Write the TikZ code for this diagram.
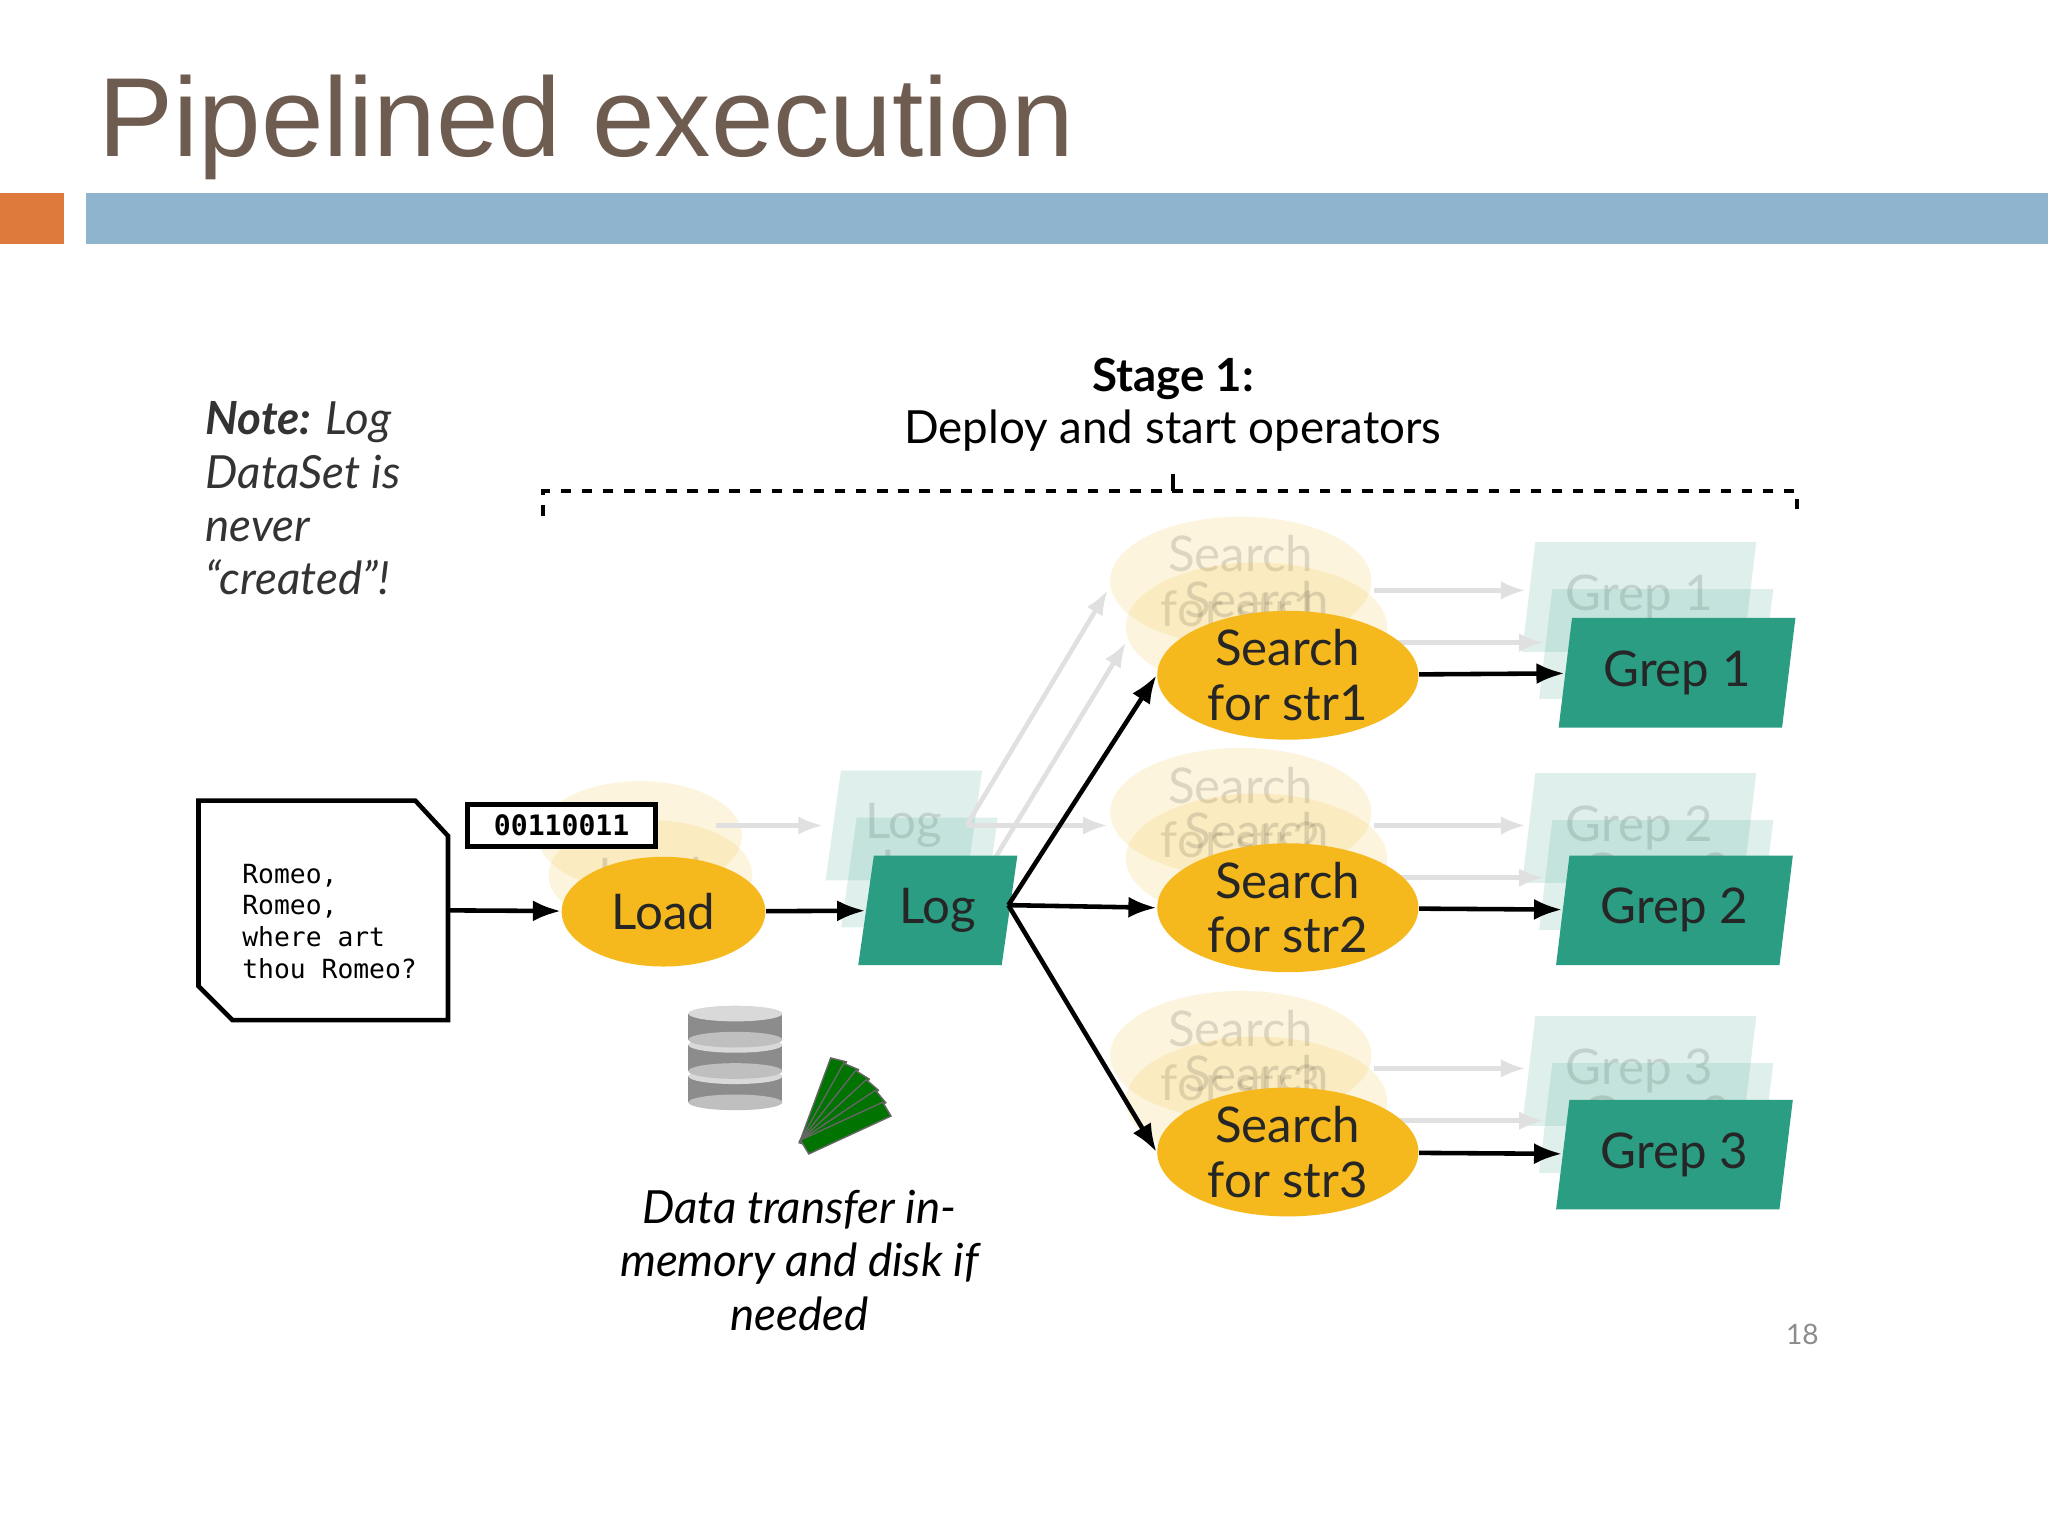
\documentclass[tikz,border=0pt]{standalone}
\usepackage{fontspec}
\setmainfont{Lato}
\newfontfamily\titlefont{Liberation Sans}
\newfontfamily\monofont{DejaVu Sans Mono}
\usetikzlibrary{arrows.meta,shapes.geometric}
\definecolor{gold}{HTML}{F5B91E}
\definecolor{teal}{HTML}{2A9D83}
\definecolor{titlebrown}{HTML}{6E5C50}
\definecolor{barblue}{HTML}{8FB4CD}
\definecolor{barorange}{HTML}{DE7B3C}
\newcommand{\pxu}{0.01306cm}
\tikzset{
  op/.style={ellipse,fill=gold,minimum width=200*\pxu,minimum height=90*\pxu,inner sep=0pt,align=center,font=\fontsize{14}{15.5}\selectfont,text=black!85},
  sm/.style={ellipse,fill=gold,minimum width=156*\pxu,minimum height=84*\pxu,inner sep=0pt,font=\fontsize{14}{16}\selectfont,text=black!85},
  ds/.style={trapezium,trapezium stretches=true,trapezium left angle=78,trapezium right angle=102,fill=teal,minimum height=84*\pxu,inner sep=0pt,font=\fontsize{14}{16}\selectfont,text=black!85},
  ghost/.style={opacity=0.15},
  flow/.style={-{Latex[length=8pt]},line width=1.3pt},
  gflow/.style={-{Latex[length=7pt]},line width=1.3pt,black!12},
}
\begin{document}
\begin{tikzpicture}[x=0.01306cm,y=-0.01306cm]
\useasboundingbox (0,0) rectangle (1568,1176);
\fill[white] (0,0) rectangle (1568,1176);
% title and bars
\node[anchor=base west,inner sep=0pt,text=titlebrown,font=\titlefont\fontsize{32}{36}\selectfont] (title) at (75,120) {Pipelined execution};
\fill[barorange] (0,148) rectangle (49,187);
\fill[barblue] (66,148) rectangle (1568,187);
% note
\node[anchor=north west,align=left,font=\itshape\fontsize{13}{15.2}\selectfont,text=black!80] (note) at (148,298)
 {\textbf{Note:} Log\\DataSet is\\never\\``created''!};
% stage
\node[font=\bfseries\fontsize{13}{15}\selectfont] (stage) at (898,290) {Stage 1:};
\node[font=\fontsize{13}{15}\selectfont] (deploy) at (898,330) {Deploy and start operators};
\draw[dashed,line width=1.2pt] (416,395) -- (416,376) -- (1376,376) -- (1376,395);
\draw[line width=1.2pt] (898,376) -- (898,363);
% document
\draw[line width=1.3pt] (152,613) -- (318,613) -- (343,640) -- (343,781) -- (178,781) -- (152,755) -- cycle;
\node[anchor=north west,align=left,font=\monofont\fontsize{7.5}{9}\selectfont] (doc) at (176,652)
 {Romeo,\\Romeo,\\where art\\thou Romeo?};
\coordinate (docr) at (343,697);
% ghosts
\begin{scope}[ghost]
\node[sm] at (490,640) {};
\node[sm] (gload) at (498,670) {Load};
\node[ds,minimum width=120*\pxu] at (692,632) {Log};
\node[ds,minimum width=120*\pxu] at (704,668) {Log};
\foreach \y/\n in {435/1,612/2,798/3}{
 \node[op] at (950,\y+10) {Search\\for str\n};
 \node[op] at (962,\y+45) {Search\\for str\n};
 \node[ds,minimum width=180*\pxu] at (1255,\y+22) {Grep \n};
 \node[ds,minimum width=180*\pxu] at (1268,\y+58) {Grep \n};
}
\end{scope}
\foreach \y in {452,632,818}{\draw[gflow] (1052,\y) -- (1168,\y);}
\foreach \y in {492,672,858}{\draw[gflow] (1052,\y) -- (1182,\y);}
\draw[gflow] (548,632) -- (630,632);
\draw[gflow] (740,632) -- (848,452);
\draw[gflow] (760,660) -- (862,492);
\draw[gflow] (740,632) -- (848,632);
% main nodes
\node[sm] (load) at (508,698) {Load};
\node[ds,minimum width=122*\pxu] (log) at (718,697) {Log};
\node[op] (s1) at (986,517) {Search\\for str1};
\node[op] (s2) at (986,695) {Search\\for str2};
\node[op] (s3) at (986,882) {Search\\for str3};
\node[ds,minimum width=182*\pxu] (g1) at (1284,515) {Grep 1};
\node[ds,minimum width=182*\pxu] (g2) at (1282,697) {Grep 2};
\node[ds,minimum width=182*\pxu] (g3) at (1282,884) {Grep 3};
\node[draw,line width=1.3pt,fill=white,font=\monofont\bfseries\fontsize{8}{9}\selectfont,minimum width=144*\pxu,minimum height=32*\pxu,inner sep=0pt] (bits) at (430,632) {00110011};
\draw[flow] (docr) -- (load);
\draw[flow] (load) -- (log);
\coordinate (fork) at (772,693);
\draw[flow] (fork) -- (s1.west);
\draw[flow] (fork) -- (s2.west);
\draw[flow] (fork) -- (s3.west);
\draw[flow] (s1) -- (g1);
\draw[flow] (s2) -- (g2);
\draw[flow] (s3) -- (g3);
% storage icons
\foreach \y in {832,808,784}{
 \fill[black!45] (527,\y-8) rectangle (599,\y+12);
 \fill[black!25] (563,\y+12) ellipse (36 and 6);
 \fill[black!15] (563,\y-8) ellipse (36 and 6);
}
\foreach \i in {0,...,5}{
 \fill[green!45!black,draw=black!60,thin,rotate around={-9*\i:(615,875)}] (612,875) -- (636,810) -- (648,813) -- (624,878) -- cycle;
}
% caption
\node[align=center,font=\itshape\fontsize{13}{15.2}\selectfont] (cap) at (612,965)
 {Data transfer in-\\memory and disk if\\needed};
\node[text=black!45,font=\fontsize{8}{9}\selectfont] (pg) at (1380,1022) {18};
\end{tikzpicture}
\end{document}
